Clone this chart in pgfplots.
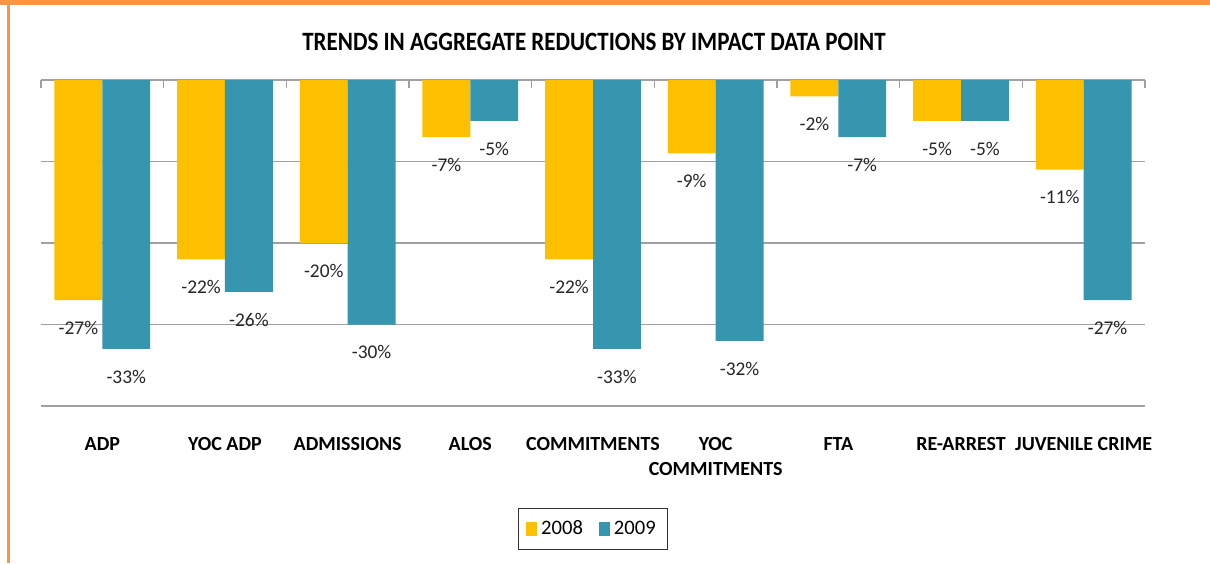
\documentclass[border=0pt]{standalone}
\usepackage{pgfplots}
\pgfplotsset{compat=1.18}
\usepackage{fontspec}
\setmainfont{Carlito}
\definecolor{cyel}{RGB}{253,192,0}
\definecolor{cteal}{RGB}{54,150,175}
\definecolor{corange}{RGB}{247,150,70}
\definecolor{cgrid}{RGB}{160,160,160}
\begin{document}
\begin{tikzpicture}
\useasboundingbox (0,0) rectangle (605pt,-281.5pt);
\fill[corange] (0,0) rectangle (605pt,-2.6pt);
\fill[corange] (3.5pt,0) rectangle (5pt,-281.5pt);
\node[font=\bfseries\fontsize{11.5}{13}\selectfont] at (297pt,-21pt) {\scalebox{1}[1.15]{TRENDS IN AGGREGATE REDUCTIONS BY IMPACT DATA POINT}};
\begin{axis}[
  at={(20.5pt,-40pt)}, anchor=north west,
  scale only axis, width=552pt, height=163pt,
  xmin=-0.5, xmax=8.5, ymin=-40, ymax=0,
  ybar, bar width=0.39,
  axis line style={draw=none},
  ytick={-40,-30,-20,-10,0}, yticklabels={},
  ymajorgrids, grid style={cgrid, line width=0.6pt},
  major tick length=0pt,
  xtick={0,...,8},
  xticklabels={ADP,YOC ADP,ADMISSIONS,ALOS,COMMITMENTS,YOC\\COMMITMENTS,FTA,RE-ARREST,JUVENILE CRIME},
  minor xtick={-0.5,0.5,...,8.5},
  xtick pos=upper, xticklabel pos=lower, tick align=inside,
  minor tick length=4pt,
  minor tick style={cgrid, line width=0.6pt},
  x tick label style={font=\bfseries\fontsize{10}{12.5}\selectfont, align=center, yshift=-12pt},
  /pgf/number format/assume math mode=true,
  nodes near coords={\pgfmathprintnumber{\pgfplotspointmeta}\%},
  every node near coord/.append style={font=\fontsize{9.7}{11}\selectfont, yshift=-7pt, text=black!85},
  legend style={at={(0.5,-0.377)}, anchor=center, legend columns=2, draw=black!80,
    font=\fontsize{10.3}{12}\selectfont, inner xsep=4pt, inner ysep=4pt,
    /tikz/every even column/.append style={column sep=6pt}},
  legend cell align=left,
]
\addplot[fill=cyel, draw=none, bar shift=-0.195,
  legend image code/.code={\fill[cyel] (0pt,-3.5pt) rectangle (5.5pt,3.5pt);}]
  coordinates {(0,-27) (1,-22) (2,-20) (3,-7) (4,-22) (5,-9) (6,-2) (7,-5) (8,-11)};
\addplot[fill=cteal, draw=none, bar shift=0.195,
  legend image code/.code={\fill[cteal] (0pt,-3.5pt) rectangle (5.5pt,3.5pt);}]
  coordinates {(0,-33) (1,-26) (2,-30) (3,-5) (4,-33) (5,-32) (6,-7) (7,-5) (8,-27)};
\legend{2008,2009}
\end{axis}
\end{tikzpicture}
\end{document}
